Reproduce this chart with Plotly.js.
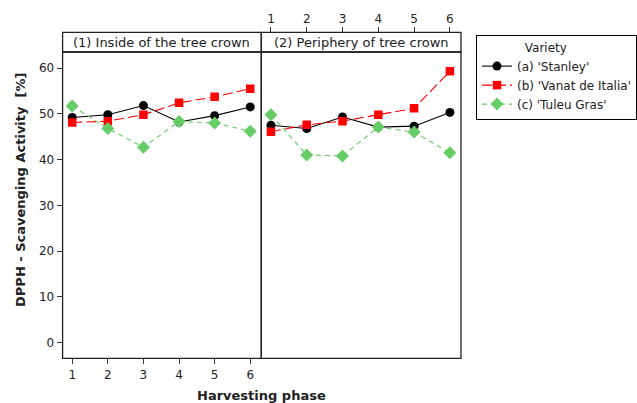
<!DOCTYPE html>
<html>
<head>
<meta charset="utf-8">
<script src="https://cdn.plot.ly/plotly-3.0.1.min.js"></script>
<style>
  html, body { margin: 0; padding: 0; background: #fff; }
  #chart { width: 637px; height: 403px; }
</style>
</head>
<body>
<div id="chart"></div>
<script>
// Harvesting phases (x categories shared by both panels)
const phases = [1, 2, 3, 4, 5, 6];
const phaseTicks = ['1', '2', '3', '4', '5', '6'];

// DPPH scavenging activity [%] - panel (1) inside of the tree crown
const stanleyInside = [49.2, 49.8, 51.8, 48.2, 49.6, 51.5];
const vanatInside   = [48.1, 48.4, 49.8, 52.4, 53.7, 55.5];
const tuleuInside   = [51.7, 46.8, 42.7, 48.3, 48.0, 46.2];

// DPPH scavenging activity [%] - panel (2) periphery of tree crown
const stanleyPeriphery = [47.5, 46.8, 49.3, 47.1, 47.3, 50.3];
const vanatPeriphery   = [46.1, 47.6, 48.4, 49.8, 51.2, 59.3];
const tuleuPeriphery   = [49.8, 41.0, 40.8, 47.1, 46.0, 41.5];

const varietyNames = ["(a) 'Stanley'", "(b) 'Vanat de Italia'", "(c) 'Tuleu Gras'"];
const panelTitles = ['(1) Inside of the tree crown', '(2) Periphery of tree crown'];
const yTicks = [0, 10, 20, 30, 40, 50, 60];

const FONT = 'DejaVu Sans, Verdana, sans-serif';
const GREEN = '#66cc66';

const styles = [
  { line: { color: '#000000', width: 1.1 }, marker: { symbol: 'circle', size: 9, color: '#000000' } },
  { line: { color: '#ff0000', width: 1.1, dash: '10px,4px' }, marker: { symbol: 'square', size: 8.5, color: '#ff0000' } },
  { line: { color: GREEN, width: 1.1, dash: '5px,4px' }, marker: { symbol: 'diamond', size: 10, color: GREEN } }
];

const insideSeries = [stanleyInside, vanatInside, tuleuInside];
const peripherySeries = [stanleyPeriphery, vanatPeriphery, tuleuPeriphery];

const traces = [];
insideSeries.forEach((vals, i) => {
  traces.push(Object.assign({
    type: 'scatter', mode: 'lines+markers', x: phases, y: vals,
    name: varietyNames[i], xaxis: 'x', yaxis: 'y', legendgroup: 'v' + i
  }, styles[i]));
});
peripherySeries.forEach((vals, i) => {
  traces.push(Object.assign({
    type: 'scatter', mode: 'lines+markers', x: phases, y: vals,
    name: varietyNames[i], xaxis: 'x2', yaxis: 'y2', legendgroup: 'v' + i, showlegend: false
  }, styles[i]));
});

// panel geometry (paper fractions)
const W = 637, H = 403;
const xl0 = 62.7 / W, xm = 261.7 / W, xr1 = 461.7 / W;
const yb = (H - 358.3) / H, yt = (H - 52) / H, yh = (H - 32.3) / H;

const xRange = [0.73, 6.31];
const yRange = [-3.4, 63.5];

const tickFont = { family: FONT, size: 12, color: '#222' };
const legendFont = { family: FONT, size: 12, color: '#222' };

const layout = {
  width: W, height: H,
  margin: { l: 0, r: 0, t: 0, b: 0 },
  paper_bgcolor: '#fff', plot_bgcolor: '#fff',
  font: { family: FONT, color: '#222' },
  showlegend: true,
  legend: {
    x: 477 / W, y: (H - 35) / H, xanchor: 'left', yanchor: 'top',
    bordercolor: '#000', borderwidth: 1, bgcolor: '#fff',
    font: legendFont,
    title: { text: '\u00a0\u00a0\u00a0\u00a0\u00a0\u00a0\u00a0\u00a0\u00a0\u00a0\u00a0\u00a0Variety', font: legendFont },
    tracegroupgap: 0
  },
  xaxis: {
    domain: [xl0, xm], range: xRange, anchor: 'y',
    tickvals: phases, ticktext: phaseTicks, ticks: 'outside', ticklen: 5, tickcolor: '#333',
    showline: false, showgrid: false, zeroline: false, tickfont: tickFont
  },
  yaxis: {
    domain: [yb, yt], range: yRange, anchor: 'x',
    tickvals: yTicks, ticks: 'outside', ticklen: 5, tickcolor: '#333',
    showline: false, showgrid: false, zeroline: false, tickfont: tickFont
  },
  xaxis2: {
    domain: [xm, xr1], range: xRange, anchor: 'free', position: yh, side: 'top',
    tickvals: phases, ticktext: phaseTicks, ticks: 'outside', ticklen: 5, tickcolor: '#333',
    showline: false, showgrid: false, zeroline: false, tickfont: tickFont
  },
  yaxis2: {
    domain: [yb, yt], range: yRange, anchor: 'x2', matches: 'y',
    showticklabels: false, ticks: '', showline: false, showgrid: false, zeroline: false
  },
  shapes: [
    // panel frames
    { type: 'rect', xref: 'paper', yref: 'paper', x0: xl0, x1: xm, y0: yb, y1: yt, line: { color: '#222', width: 1.3 } },
    { type: 'rect', xref: 'paper', yref: 'paper', x0: xm, x1: xr1, y0: yb, y1: yt, line: { color: '#222', width: 1.3 } },
    // panel header strips
    { type: 'rect', xref: 'paper', yref: 'paper', x0: xl0, x1: xm, y0: yt, y1: yh, line: { color: '#222', width: 1.3 } },
    { type: 'rect', xref: 'paper', yref: 'paper', x0: xm, x1: xr1, y0: yt, y1: yh, line: { color: '#222', width: 1.3 } }
  ],
  annotations: [
    { text: panelTitles[0], xref: 'paper', yref: 'paper', x: (xl0 + xm) / 2, y: (yt + yh) / 2,
      xanchor: 'center', yanchor: 'middle', showarrow: false, font: { family: FONT, size: 13, color: '#222' } },
    { text: panelTitles[1], xref: 'paper', yref: 'paper', x: (xm + xr1) / 2, y: (yt + yh) / 2,
      xanchor: 'center', yanchor: 'middle', showarrow: false, font: { family: FONT, size: 13, color: '#222' } },
    { text: '<b>Harvesting phase</b>', xref: 'paper', yref: 'paper', x: xm, y: (H - 395) / H,
      xanchor: 'center', yanchor: 'middle', showarrow: false, font: { family: FONT, size: 13, color: '#222' } },
    { text: '<b>DPPH - Scavenging Activity \u00a0[%]</b>', xref: 'paper', yref: 'paper', x: 20 / W, y: (H - 190) / H,
      xanchor: 'center', yanchor: 'middle', textangle: -90, showarrow: false, font: { family: FONT, size: 13, color: '#222' } }
  ]
};

Plotly.newPlot('chart', traces, layout, { displayModeBar: false, staticPlot: true });
</script>
</body>
</html>
